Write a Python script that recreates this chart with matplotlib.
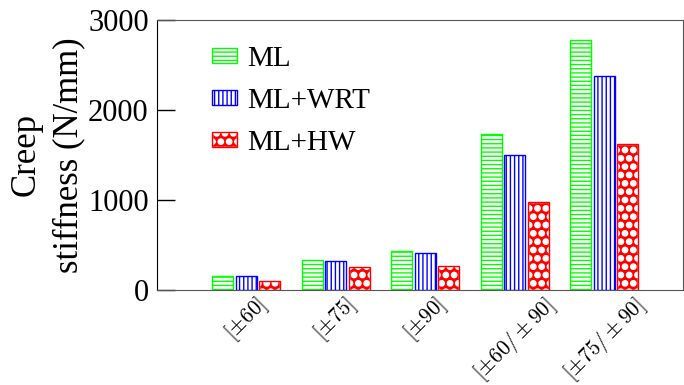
import matplotlib
matplotlib.use("Agg")
import matplotlib.pyplot as plt
import matplotlib.hatch
import numpy as np

# bigger filled dots for the "." hatch
matplotlib.hatch.SmallFilledCircles.size = 0.32

categories = [r"$[\pm60]$", r"$[\pm75]$", r"$[\pm90]$",
              r"$[\pm60/\pm90]$", r"$[\pm75/\pm90]$"]
ml = [160, 333, 435, 1735, 2780]
ml_wrt = [155, 320, 410, 1500, 2380]
ml_hw = [95, 252, 267, 978, 1622]

plt.rcParams["font.family"] = ["Liberation Serif", "DejaVu Serif"]
plt.rcParams["mathtext.fontset"] = "cm"
plt.rcParams["hatch.linewidth"] = 1.0

fig, ax = plt.subplots(figsize=(6.84, 3.85), dpi=100)
fig.subplots_adjust(left=0.2295, right=0.9985, top=0.948, bottom=0.247)

x = np.arange(len(categories))
w = 0.235
off = 0.262

b1 = ax.bar(x - off, ml, w, facecolor="white", edgecolor="lime",
            hatch="----", linewidth=1)
b2 = ax.bar(x, ml_wrt, w, facecolor="white", edgecolor="blue",
            hatch="||||", linewidth=1)
b3 = ax.bar(x + off, ml_hw, w, facecolor="red", edgecolor="white",
            hatch="..", linewidth=1)
b3e = ax.bar(x + off, ml_hw, w, facecolor="none", edgecolor="red",
             linewidth=1)

ax.set_xlim(-0.995, 4.88)
ax.set_ylim(0, 3000)
ax.set_yticks([0, 1000, 2000, 3000])
ax.tick_params(axis="y", direction="in", length=13, width=1,
               labelsize=22, pad=6)
ax.set_xticks(x)
ax.set_xticklabels(categories, rotation=45, ha="center", fontsize=15.3)
ax.tick_params(axis="x", length=0, pad=2)

ax.spines["left"].set_color("black")
for s in ["top", "bottom", "right"]:
    ax.spines[s].set_color("#555555")

ax.set_ylabel("Creep\nstiffness (N/mm)", fontsize=25, labelpad=2,
              linespacing=1.4)

ax.legend([b1, b2, (b3, b3e)], ["ML", "ML+WRT", "ML+HW"],
          loc="upper left", bbox_to_anchor=(0.104, 0.905), frameon=False,
          fontsize=21, handlelength=0.86, handleheight=0.43,
          handletextpad=0.36, labelspacing=0.55, borderpad=0,
          borderaxespad=0)

plt.savefig("out.png", dpi=100)
